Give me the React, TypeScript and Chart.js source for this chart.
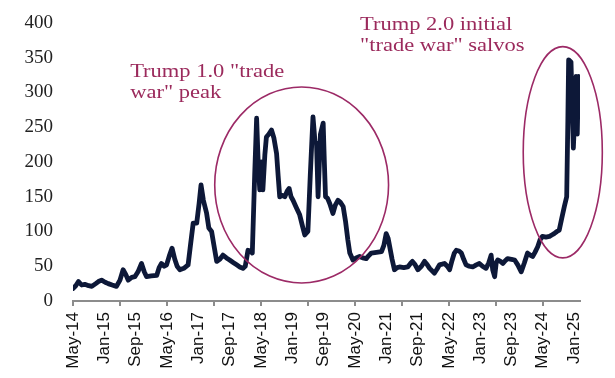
import React, { useEffect, useRef } from "react";
import { Chart, registerables } from "chart.js";

Chart.register(...registerables);

// Months elapsed since May-2014 (fractional = within-month, weekly data)
const monthIndex = [
  0, 0.7, 1.4, 2.2, 3.0, 4.0, 4.8, 5.8, 6.5, 7.3, 8.2, 9, 10, 11.1, 12, 12.8, 13.5, 14.1, 15, 15.8,
  16.6, 17.5, 18.2, 18.8, 20, 21.4, 22, 22.6, 23.3, 23.9, 24.6, 25.3, 26, 26.6, 27.3, 28.3, 29.4, 30,
  30.7, 31.6, 32.2, 32.7, 33.3, 34.1, 34.7, 35.4, 36, 36.7, 37.5, 38.3, 39.2, 40, 41, 41.8, 42.6, 43.4,
  44, 44.7, 45.3, 45.8, 46.4, 46.9, 47.3, 47.7, 48.1, 48.5, 49, 49.4, 50, 50.7, 51.3, 52, 52.4, 52.8,
  53.5, 54.1, 54.7, 55.2, 55.7, 56.2, 57, 57.9, 58.6, 59.2, 60, 60.6, 61.3, 61.8, 62.2, 62.6, 63.2,
  63.9, 64.2, 64.5, 65, 65.6, 66.4, 67, 67.7, 68.3, 69, 69.6, 70.2, 70.7, 71.5, 72.3, 73.2, 74, 74.9,
  75.5, 76.2, 77.5, 78.8, 79.4, 80, 80.5, 80.9, 81.5, 82.1, 82.8, 83.4, 84.5, 85.5, 86.2, 86.7, 87.4,
  88.1, 89, 89.8, 90.5, 91.1, 92.3, 93, 93.6, 94.3, 94.9, 95.6, 96.2, 96.8, 97.4, 97.9, 98.6, 99.2,
  99.8, 100.4, 101.2, 102.1, 103, 103.8, 104.6, 105.5, 106.2, 106.8, 107.2, 107.7, 108.1, 108.5, 109.2,
  109.8, 110.4, 111, 112, 112.8, 113.6, 114.5, 115.3, 116.1, 116.8, 117.4, 118, 118.7, 119.3, 119.9,
  120.8, 121.7, 122.3, 122.9, 123.6, 124.2, 124.8, 125.5, 126.1, 126.4, 126.6, 127.2, 127.5, 127.8,
  128.1, 128.5, 128.8, 129.1,
];

const indexValues = [
  18, 22, 28, 23, 24, 22, 21, 25, 28, 30, 27, 25, 23, 21, 30, 45, 38, 30, 34, 35,
  42, 54, 42, 35, 36, 37, 48, 54, 50, 52, 65, 76, 60, 50, 45, 47, 52, 80,
  112, 112, 140, 167, 145, 127, 105, 100, 80, 57, 60, 66, 62, 59, 55, 52, 49, 47,
  50, 73, 72, 69, 180, 263, 200, 160, 200, 160, 210, 236, 240, 246, 235, 212, 180, 150,
  152, 150, 158, 162, 150, 145, 135, 124, 108, 95, 100, 180, 265, 230, 227, 150, 240,
  256, 200, 150, 148, 140, 126, 138, 145, 142, 136, 115, 88, 69, 59, 62, 64, 62, 61,
  65, 69, 70, 71, 80, 97, 90, 78, 60, 45, 48, 49, 48, 49, 54, 57, 52,
  45, 50, 57, 52, 47, 40, 46, 52, 53, 54, 50, 45, 58, 69, 73, 72, 69,
  60, 52, 50, 49, 52, 54, 50, 47, 55, 66, 45, 35, 55, 59, 57,
  54, 58, 61, 60, 59, 52, 42, 55, 69, 66, 64, 70, 78, 88, 93,
  92, 93, 95, 97, 100, 102, 118, 136, 150, 260, 347, 344, 280, 220,
  260, 323, 240, 323,
];

// X-axis labels every 8 months, tick marks every 12 months
const xLabelMonths = [0, 8, 16, 24, 32, 40, 48, 56, 64, 72, 80, 88, 96, 104, 112, 120, 128];
const xLabels = [
  "May-14", "Jan-15", "Sep-15", "May-16", "Jan-17", "Sep-17", "May-18", "Jan-19", "Sep-19",
  "May-20", "Jan-21", "Sep-21", "May-22", "Jan-23", "Sep-23", "May-24", "Jan-25",
];
const xTickMarkMonths = [0, 12, 24, 36, 48, 60, 72, 84, 96, 108, 120];

const yTicks = [0, 50, 100, 150, 200, 250, 300, 350, 400];

// Annotations (in data coordinates)
const ellipseCentreMonth = [58.4, 125.1];
const ellipseCentreValue = [167, 214];
const ellipseMonthRadius = [22.2, 10.1];
const ellipseValueRadius = [141, 152];

const noteLines = [
  ['Trump 1.0 "trade', 'war" peak'],
  ["Trump 2.0 initial", '"trade war" salvos'],
];
const noteMonth = [14.6, 73.3];
const noteValue = [322, 390];

const LINE_COLOR = "#0d1838";
const NOTE_COLOR = "#9b2a5c";
const ELLIPSE_COLOR = "#9c2a66";

const annotationPlugin = {
  id: "tradeWarNotes",
  afterDatasetsDraw(chart: any) {
    const { ctx, scales } = chart;
    const x = scales.x;
    const y = scales.y;
    ctx.save();
    for (let i = 0; i < ellipseCentreMonth.length; i++) {
      const cx = x.getPixelForValue(ellipseCentreMonth[i]);
      const cy = y.getPixelForValue(ellipseCentreValue[i]);
      const rx = Math.abs(x.getPixelForValue(ellipseCentreMonth[i] + ellipseMonthRadius[i]) - cx);
      const ry = Math.abs(y.getPixelForValue(ellipseCentreValue[i] + ellipseValueRadius[i]) - cy);
      ctx.beginPath();
      ctx.ellipse(cx, cy, rx, ry, 0, 0, Math.PI * 2);
      ctx.strokeStyle = ELLIPSE_COLOR;
      ctx.lineWidth = 1.6;
      ctx.stroke();
    }
    ctx.fillStyle = NOTE_COLOR;
    ctx.font = '18px "Liberation Serif", "Times New Roman", serif';
    ctx.textBaseline = "alphabetic";
    ctx.textAlign = "left";
    const sx = 1.25;
    for (let i = 0; i < noteLines.length; i++) {
      const px = x.getPixelForValue(noteMonth[i]);
      const py = y.getPixelForValue(noteValue[i]);
      noteLines[i].forEach((line, j) => {
        ctx.save();
        ctx.translate(px, py + j * 21);
        ctx.scale(sx, 1);
        ctx.fillText(line, 0, 0);
        ctx.restore();
      });
    }
    ctx.restore();
  },
};

export default function App() {
  const canvasRef = useRef<HTMLCanvasElement | null>(null);

  useEffect(() => {
    document.body.style.margin = "0";
    const canvas = canvasRef.current;
    if (!canvas) return;
    const points = monthIndex.map((m, i) => ({ x: m, y: indexValues[i] }));
    const tickSet = Array.from(new Set([...xLabelMonths, ...xTickMarkMonths])).sort((a, b) => a - b);

    const chart = new Chart(canvas, {
      type: "line",
      data: {
        datasets: [
          {
            data: points,
            borderColor: LINE_COLOR,
            borderWidth: 4.8,
            pointRadius: 0,
            tension: 0,
            borderJoinStyle: "round",
            borderCapStyle: "round",
            fill: false,
          },
        ],
      },
      options: {
        animation: false,
        responsive: false,
        maintainAspectRatio: false,
        layout: { padding: { left: 0, top: 23, right: 35, bottom: 0 } },
        plugins: { legend: { display: false }, tooltip: { enabled: false } },
        scales: {
          x: {
            type: "linear",
            min: 0,
            max: 129.5,
            afterBuildTicks: (scale: any) => {
              scale.ticks = tickSet.map((v) => ({ value: v }));
            },
            afterFit: (scale: any) => {
              scale.height = 77;
            },
            ticks: {
              autoSkip: false,
              minRotation: 90,
              maxRotation: 90,
              padding: 6,
              color: "#111",
              font: { family: '"Liberation Sans", Arial, sans-serif', size: 17 },
              callback: (v: any) => {
                const k = xLabelMonths.indexOf(Number(v));
                return k >= 0 ? xLabels[k] : "";
              },
            },
            grid: {
              drawOnChartArea: false,
              drawTicks: true,
              tickLength: 5,
              lineWidth: 2,
              color: (ctx: any) =>
                ctx.tick && xTickMarkMonths.includes(ctx.tick.value) ? "#8c8c8c" : "rgba(0,0,0,0)",
            },
            border: { display: true, color: "#8c8c8c", width: 2 },
          },
          y: {
            min: 0,
            max: 400,
            afterBuildTicks: (scale: any) => {
              scale.ticks = yTicks.map((v) => ({ value: v }));
            },
            afterFit: (scale: any) => {
              scale.width = 73;
              scale.paddingTop = 0;
              scale.paddingBottom = 0;
            },
            ticks: {
              padding: 20,
              color: "#222",
              font: { family: '"Liberation Serif", "Times New Roman", serif', size: 19 },
            },
            grid: { display: false, drawTicks: false },
            border: { display: false },
          },
        },
      },
      plugins: [annotationPlugin],
    });
    return () => chart.destroy();
  }, []);

  return (
    <div style={{ width: 615, height: 378, background: "#fff" }}>
      <canvas ref={canvasRef} width={615} height={378} />
    </div>
  );
}
